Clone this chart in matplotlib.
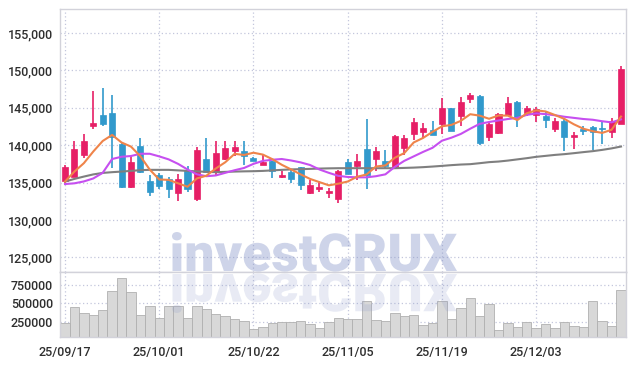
import matplotlib
matplotlib.use("Agg")
import matplotlib.pyplot as plt
import matplotlib.transforms as mtransforms
from matplotlib.textpath import TextPath
from matplotlib.patches import PathPatch
from matplotlib.font_manager import FontProperties
from matplotlib.ticker import FuncFormatter

# trading days, 25/09/17 .. 25/12/16
dates = ["25/09/17", "25/09/18", "25/09/19", "25/09/22", "25/09/23", "25/09/24", "25/09/25", "25/09/26", "25/09/29", "25/09/30",
         "25/10/01", "25/10/02", "25/10/10", "25/10/13", "25/10/14", "25/10/15", "25/10/16", "25/10/17", "25/10/20", "25/10/21",
         "25/10/22", "25/10/23", "25/10/24", "25/10/27", "25/10/28", "25/10/29", "25/10/30", "25/10/31", "25/11/03", "25/11/04",
         "25/11/05", "25/11/06", "25/11/07", "25/11/10", "25/11/11", "25/11/12", "25/11/13", "25/11/14", "25/11/17", "25/11/18",
         "25/11/19", "25/11/20", "25/11/21", "25/11/24", "25/11/25", "25/11/26", "25/11/27", "25/11/28", "25/12/01", "25/12/02",
         "25/12/03", "25/12/04", "25/12/05", "25/12/08", "25/12/09", "25/12/10", "25/12/11", "25/12/12", "25/12/15", "25/12/16"]

opens = [135200, 135800, 138700, 142500, 144100, 144300, 140200, 134450, 139950, 135250,
         135950, 135500, 133650, 136700, 132800, 138150, 136350, 138150, 139250, 139250,
         138300, 137400, 137900, 135700, 136450, 137050, 133650, 134100, 133650, 132800,
         137750, 137250, 139500, 138100, 137900, 136900, 139600, 141500, 141750, 142050,
         142800, 144950, 143950, 146150, 146600, 141150, 141600, 144050, 145750, 144350,
         144050, 143950, 142150, 143250, 141150, 142200, 142400, 142300, 141750, 142800]
highs = [137300, 140550, 141500, 147300, 147600, 146750, 140300, 138500, 140950, 136050,
         136250, 135800, 136150, 137250, 139700, 140950, 140600, 140600, 140600, 140600,
         138450, 138800, 137950, 136600, 136700, 137100, 135350, 135250, 134250, 136700,
         138150, 138800, 143500, 139800, 139350, 141400, 141400, 143600, 143000, 143250,
         146300, 145000, 146450, 146950, 146750, 142950, 144250, 146450, 145950, 145250,
         145150, 144600, 143600, 143500, 141750, 142600, 142600, 143200, 143600, 150650]
lows = [135000, 135700, 138250, 142150, 142600, 137000, 134250, 134250, 136300, 133200,
        134100, 132900, 132550, 133800, 132550, 136350, 136050, 138000, 138500, 137350,
        137900, 137350, 135550, 135650, 134900, 134000, 133450, 133700, 132900, 132250,
        136100, 135350, 134100, 136550, 137000, 136900, 138700, 140700, 141000, 141300,
        141500, 141950, 142600, 145650, 140050, 140600, 141500, 143850, 142400, 143850,
        143050, 142350, 141750, 139250, 139500, 141300, 139350, 140100, 140950, 142800]
closes = [137050, 139500, 140550, 142900, 142800, 141100, 134450, 137800, 136450, 133800,
          134550, 134200, 135500, 134150, 139350, 136400, 139000, 139650, 139800, 138600,
          137900, 137750, 136600, 136050, 135450, 134650, 134700, 134450, 133900, 136550,
          136100, 137900, 135950, 139250, 137250, 141250, 141000, 143050, 142300, 141300,
          144950, 141950, 145750, 146750, 140350, 142850, 144150, 145650, 143750, 144950,
          144800, 143400, 143250, 141150, 141350, 141850, 141750, 142100, 143250, 150200]

# moving averages as drawn on the chart
ma5 = [135130, 136470, 137590, 139150, 140560, 141370, 140360, 139810, 138520, 136720,
       135410, 135360, 134900, 134440, 135550, 135920, 136880, 137710, 138840, 138690,
       138990, 138740, 138130, 137380, 136750, 136100, 135490, 135060, 134630, 134850,
       135140, 135780, 136080, 137150, 137290, 138320, 138940, 140360, 140970, 141780,
       142520, 142710, 143250, 144140, 143950, 143530, 143970, 143950, 143350, 144270,
       144660, 144510, 144030, 143510, 142790, 142200, 141870, 141640, 142060, 143830]
ma20 = [134800, 134900, 135150, 135550, 136300, 138150, 138450, 138550, 138850, 138850,
        138500, 138100, 137500, 136750, 136100, 135850, 135950, 136300, 136650, 136950,
        137500, 137900, 138050, 138150, 137950, 137700, 137350, 136750, 136300, 135900,
        135750, 135700, 135700, 135850, 136100, 137100, 137900, 138500, 139100, 139650,
        140600, 141000, 141500, 142200, 142850, 143100, 143300, 143500, 143650, 144050,
        144250, 144150, 144000, 143800, 143650, 143500, 143400, 143200, 143050, 143450]
ma60 = [135130, 135490, 135800, 136090, 136290, 136390, 136470, 136560, 136660, 136700,
        136700, 136700, 136630, 136560, 136500, 136430, 136390, 136430, 136470, 136500,
        136520, 136560, 136630, 136700, 136760, 136790, 136830, 136870, 136900, 136920,
        136920, 136920, 136920, 136920, 136920, 136920, 136960, 137000, 137060, 137140,
        137230, 137330, 137410, 137460, 137590, 137730, 137810, 137940, 138100, 138260,
        138440, 138570, 138700, 138800, 138930, 139070, 139200, 139370, 139570, 139820]

volumes = [228000, 446000, 364000, 337000, 405000, 672000, 841000, 650000, 337000, 460000,
           296000, 460000, 460000, 296000, 468000, 419000, 351000, 324000, 283000, 255000,
           146000, 174000, 228000, 242000, 242000, 255000, 215000, 160000, 242000, 296000,
           283000, 283000, 528000, 269000, 255000, 364000, 324000, 337000, 201000, 228000,
           528000, 283000, 432000, 569000, 324000, 487000, 133000, 228000, 174000, 242000,
           160000, 215000, 160000, 242000, 187000, 174000, 528000, 255000, 187000, 678000]

UP = "#e61f66"
DOWN = "#3199cc"
GRID = "#c3c6dc"
FRAME = "#d2d2da"
TXT = "#2e2e2e"

plt.rcParams["font.family"] = ["Roboto", "DejaVu Sans"]

W, H = 634, 366
fig = plt.figure(figsize=(W / 100, H / 100), dpi=100)
ax1 = fig.add_axes([60 / W, 1 - 272 / H, 566 / W, 263 / H])
ax2 = fig.add_axes([60 / W, 1 - 337.3 / H, 566 / W, 65.3 / H], sharex=ax1)

x = list(range(len(dates)))

# candles
for i in x:
    o, h, l, c = opens[i], highs[i], lows[i], closes[i]
    col = UP if c >= o else DOWN
    ax1.vlines(i, l, h, color=col, lw=1.2, zorder=2)
    ax1.bar(i, max(abs(c - o), 120), bottom=min(o, c), width=0.64,
            color=col, edgecolor=col, lw=0.5, zorder=2)

ax1.plot(x, ma60, color="#7f7f7f", lw=1.5, zorder=3)
ax1.plot(x, ma20, color="#c64ff0", lw=1.5, zorder=3)
ax1.plot(x, ma5, color="#ef844a", lw=1.5, zorder=3)

ax1.set_ylim(123040, 158210)
ax1.set_yticks([125000, 130000, 135000, 140000, 145000, 150000, 155000])
ax1.yaxis.set_major_formatter(FuncFormatter(lambda v, p: "{:,.0f}".format(v)))
ax1.set_xlim(-0.53, 59.53)

# volume
ax2.bar(x, volumes, width=1.0, color="#d8d8d8", edgecolor="#b0b0b0", lw=0.6, zorder=2)
ax2.set_ylim(38000, 927000)
ax2.set_yticks([250000, 500000, 750000])
ax2.yaxis.set_major_formatter(FuncFormatter(lambda v, p: "%d" % v))
ax2.set_xticks(x[::10])
ax2.set_xticklabels(dates[::10])

for ax in (ax1, ax2):
    ax.grid(True, color=GRID, linestyle=(0, (1, 2)), lw=0.9, zorder=0)
    ax.set_axisbelow(True)
    ax.tick_params(length=0, labelsize=9, colors=TXT, pad=5)
    for lab in ax.get_xticklabels() + ax.get_yticklabels():
        lab.set_fontweight("medium")
    for s in ax.spines.values():
        s.set_color(FRAME)
        s.set_linewidth(1)
ax1.tick_params(labelbottom=False)
ax2.tick_params(axis="x", pad=6)

# investCRUX watermark and its reflection
fp = FontProperties(family=["Roboto", "DejaVu Sans"], weight="black")
tp = TextPath((0, 0), "investCRUX", size=54, prop=fp)
ext = tp.get_extents()
sx = 285 / ext.width
sy = 39 / ext.y1
t_main = mtransforms.Affine2D().translate(-ext.x0, 0).scale(sx, sy).translate(172, H - 271)
t_refl = mtransforms.Affine2D().translate(-ext.x0, 0).scale(sx, -sy).translate(172, H - 274)
fig.add_artist(PathPatch(tp, transform=t_main, facecolor="#8c9acb", edgecolor="none", alpha=0.42))
fig.add_artist(PathPatch(tp, transform=t_refl, facecolor="#8c9acb", edgecolor="none", alpha=0.2))

fig.savefig("out.png", dpi=100, facecolor="white")
